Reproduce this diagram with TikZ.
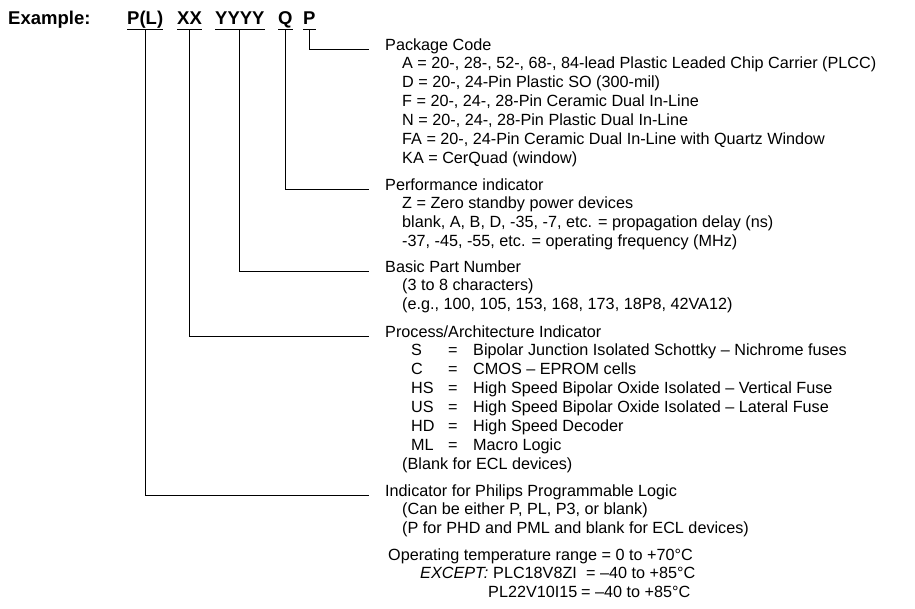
\documentclass[tikz,border=0pt]{standalone}
\usepackage{fontspec}
\setmainfont{Liberation Sans}
\begin{document}
\begin{tikzpicture}[x=1pt,y=-1pt,
  txt/.style={anchor=base west,inner sep=0pt,font=\fontsize{16.2}{18.9}\selectfont},
  bold/.style={anchor=base west,inner xsep=0pt,inner ysep=0pt,text depth=5pt,font=\fontsize{18.5}{20}\selectfont\bfseries},
  conn/.style={draw=black,line width=0.8pt}]
\useasboundingbox (0,0) rectangle (915,608);
% header
\node[bold] (ex) at (8,24) {Example:};
\node[bold] (pl) at (127,24) {P(L)};
\node[bold] (xx) at (177,24) {XX};
\node[bold] (yy) at (215,24) {YYYY};
\node[bold] (qq) at (278,24) {Q};
\node[bold] (pp) at (303,24) {P};
\foreach \n in {pl,xx,yy,qq,pp}{\draw[conn] (\n.south west) -- (\n.south east);}
% line ends
\coordinate (e1) at (369,49);
\coordinate (e2) at (369,189);
\coordinate (e3) at (369,271);
\coordinate (e4) at (369,336);
\coordinate (e5) at (369,495);
\draw[conn] (pp.south) |- (e1);
\draw[conn] (qq.south) |- (e2);
\draw[conn] (yy.south) |- (e3);
\draw[conn] (xx.south) |- (e4);
\draw[conn] (pl.south) |- (e5);
% Package code
\node[txt] (pk) at (385,50) {Package Code};
\node[txt] (pk1) at (402,68.9) {A = 20-, 28-, 52-, 68-, 84-lead Plastic Leaded Chip Carrier (PLCC)};
\node[txt] (pk2) at (402,87.8) {D = 20-, 24-Pin Plastic SO (300-mil)};
\node[txt] (pk3) at (402,106.7) {F = 20-, 24-, 28-Pin Ceramic Dual In-Line};
\node[txt] (pk4) at (402,125.6) {N = 20-, 24-, 28-Pin Plastic Dual In-Line};
\node[txt] (pk5) at (402,144.5) {FA = 20-, 24-Pin Ceramic Dual In-Line with Quartz Window};
\node[txt] (pk6) at (402,163.4) {KA = CerQuad (window)};
% Performance
\node[txt] (pf) at (385,190) {Performance indicator};
\node[txt] (pf1) at (402,208.9) {Z = Zero standby power devices};
\node[txt] (pf2) at (402,227.8) {blank, A, B, D, -35, -7, etc. = propagation delay (ns)};
\node[txt] (pf3) at (402,246.7) {-37, -45, -55, etc. = operating frequency (MHz)};
% Basic part
\node[txt] (bp) at (385,272) {Basic Part Number};
\node[txt] (bp1) at (402,290.9) {(3 to 8 characters)};
\node[txt] (bp2) at (402,309.8) {(e.g., 100, 105, 153, 168, 173, 18P8, 42VA12)};
% Process
\node[txt] (pa) at (385,337) {Process/Architecture Indicator};
\node[txt] (pa1) at (411,355.9) {S};
\node[txt] (pa2) at (411,374.8) {C};
\node[txt] (pa3) at (411,393.7) {HS};
\node[txt] (pa4) at (411,412.6) {US};
\node[txt] (pa5) at (411,431.5) {HD};
\node[txt] (pa6) at (411,450.4) {ML};
\foreach \i/\y in {1/355.9,2/374.8,3/393.7,4/412.6,5/431.5,6/450.4}{\node[txt] (eq\i) at (448,\y) {=};}
\node[txt] (pd1) at (473,355.9) {Bipolar Junction Isolated Schottky -- Nichrome fuses};
\node[txt] (pd2) at (473,374.8) {CMOS -- EPROM cells};
\node[txt] (pd3) at (473,393.7) {High Speed Bipolar Oxide Isolated -- Vertical Fuse};
\node[txt] (pd4) at (473,412.6) {High Speed Bipolar Oxide Isolated -- Lateral Fuse};
\node[txt] (pd5) at (473,431.5) {High Speed Decoder};
\node[txt] (pd6) at (473,450.4) {Macro Logic};
\node[txt] (pa7) at (402,469.3) {(Blank for ECL devices)};
% Indicator
\node[txt] (in) at (385,496) {Indicator for Philips Programmable Logic};
\node[txt] (in1) at (402,514.9) {(Can be either P, PL, P3, or blank)};
\node[txt] (in2) at (402,533.8) {(P for PHD and PML and blank for ECL devices)};
% Operating temperature
\node[txt] (op) at (388,560) {Operating temperature range = 0 to +70°C};
\node[txt] (op1a) at (420,578.9) {\textit{EXCEPT:}};
\node[txt] (op1b) at (493,578.9) {PLC18V8ZI};
\node[txt] (op1c) at (586,578.9) {= --40 to +85°C};
\node[txt] (op2a) at (488,597.8) {PL22V10I15};
\node[txt] (op2c) at (581,597.8) {= --40 to +85°C};
\end{tikzpicture}
\end{document}
